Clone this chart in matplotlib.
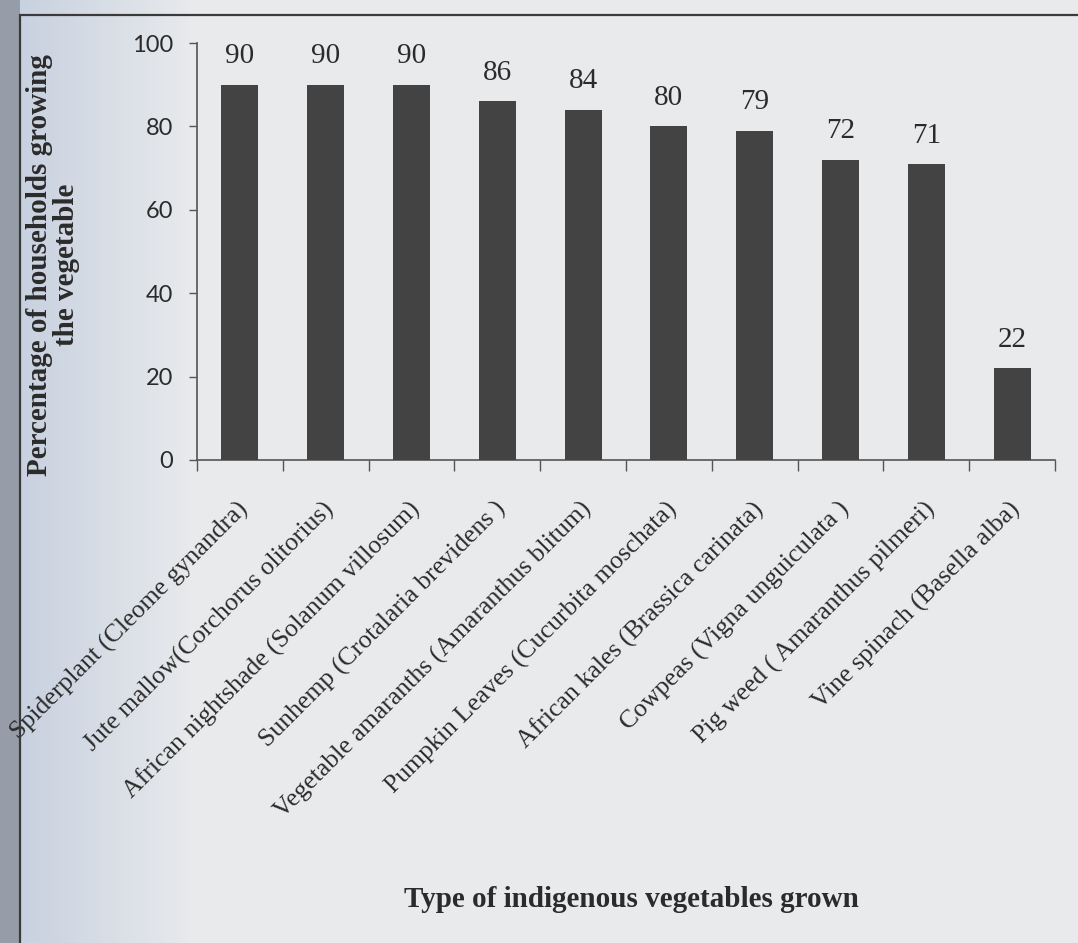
import matplotlib.pyplot as plt, numpy as np
import matplotlib.transforms as mtransforms
from matplotlib.patches import Rectangle

gemuese = [
    "Spiderplant (Cleome gynandra)",
    "Jute mallow(Corchorus olitorius)",
    "African nightshade (Solanum villosum)",
    "Sunhemp (Crotalaria brevidens )",
    "Vegetable amaranths (Amaranthus blitum)",
    "Pumpkin Leaves (Cucurbita moschata)",
    "African kales (Brassica carinata)",
    "Cowpeas (Vigna unguiculata )",
    "Pig weed ( Amaranthus pilmeri)",
    "Vine spinach (Basella alba)",
]
prozent = [90, 90, 90, 86, 84, 80, 79, 72, 71, 22]
y_ticks = [0, 20, 40, 60, 80, 100]

serif = 'Liberation Serif'
sans = 'Lato'
dunkel = '#2b2b2b'

fig = plt.figure(figsize=(10.78, 9.43), dpi=100)
fig.patch.set_facecolor('#e8eaec')

# scanner shadow along the left edge
bg = fig.add_axes([0, 0, 1, 1], zorder=-5)
spalten = np.arange(1078)
hell = np.array([232, 234, 236]) / 255
schatten = np.array([200, 209, 224]) / 255
t = np.clip((spalten - 20) / 170.0, 0, 1)[:, None]
farbe = schatten * (1 - t) + hell * t
farbe[spalten < 20] = np.array([150, 157, 168]) / 255
bild = np.repeat(farbe[None, :, :], 2, axis=0)
bg.imshow(bild, aspect='auto', extent=[0, 1, 0, 1])
bg.set_xlim(0, 1)
bg.set_ylim(0, 1)
bg.axis('off')

# chart border
fig.add_artist(Rectangle((20 / 1078, -0.05), 1.1, 1.05 - 15 / 943, transform=fig.transFigure,
                         fill=False, edgecolor='#3a3a3a', linewidth=1.6))

ax = fig.add_axes([197 / 1078, 1 - 460 / 943, (1055 - 197) / 1078, (460 - 43) / 943])
ax.set_facecolor('none')
x = np.arange(len(gemuese))
ax.bar(x, prozent, width=0.43, color='#434343', zorder=3)
ax.set_xlim(-0.5, len(gemuese) - 0.5)
ax.set_ylim(0, 100)

for xi, p in zip(x, prozent):
    ax.annotate(str(p), (xi, p), xytext=(0, 11), textcoords='offset points',
                ha='center', va='bottom', fontsize=21, family=serif, color=dunkel)

ax.set_yticks(y_ticks)
ax.set_yticklabels([str(v) for v in y_ticks], fontsize=17, family=sans, color=dunkel)
ax.tick_params(axis='y', length=6, width=1, color='#555555', pad=11)

ax.set_xticks(x)
ax.set_xticklabels(gemuese, rotation=45, ha='right', va='center', rotation_mode='anchor',
                   fontsize=18.5, family=serif, color=dunkel)
ax.set_xticks(np.arange(-0.5, len(gemuese), 1), minor=True)
ax.tick_params(axis='x', which='major', length=0, pad=33)
ax.tick_params(axis='x', which='minor', length=8, width=1, color='#555555')
versatz = mtransforms.ScaledTranslation(5 / 100, 0, fig.dpi_scale_trans)
for lab in ax.get_xticklabels():
    lab.set_transform(lab.get_transform() + versatz)

for s in ['top', 'right']:
    ax.spines[s].set_visible(False)
for s in ['left', 'bottom']:
    ax.spines[s].set_color('#555555')
    ax.spines[s].set_linewidth(1.2)

fig.text(0.0496, 0.719, "Percentage of households growing\nthe vegetable", rotation=90,
         ha='center', va='center', fontsize=21, fontweight='bold', family=serif,
         color=dunkel, linespacing=1.0)
fig.text(0.586, 0.0456, "Type of indigenous vegetables grown", ha='center', va='center',
         fontsize=21, fontweight='bold', family=serif, color=dunkel)

fig.savefig('out.png', dpi=100, facecolor=fig.get_facecolor())
